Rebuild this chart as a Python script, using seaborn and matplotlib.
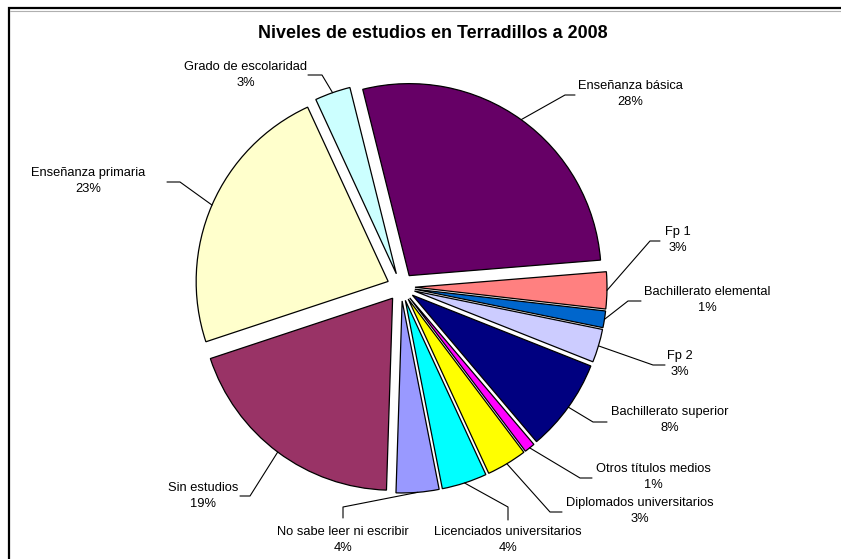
import matplotlib
matplotlib.use("Agg")
import matplotlib.pyplot as plt
import numpy as np
import seaborn as sns

# datos (porcentaje de cada nivel de estudios)
categorias = ["Enseñanza básica", "Fp 1", "Bachillerato elemental", "Fp 2",
              "Bachillerato superior", "Otros títulos medios",
              "Diplomados universitarios", "Licenciados universitarios",
              "No sabe leer ni escribir", "Sin estudios",
              "Enseñanza primaria", "Grado de escolaridad"]
porcentajes = [27.6, 3.1, 1.4, 2.8, 7.8, 0.9, 3.4, 3.8, 3.6, 19.4, 23.2, 3.0]
colores = ["#660066", "#FF8080", "#0066CC", "#CCCCFF", "#000080", "#FF00FF",
           "#FFFF00", "#00FFFF", "#9999FF", "#993366", "#FFFFCC", "#CCFFFF"]

# posiciones de etiquetas en pixeles de la imagen: texto, codo, fin de la linea
W, H = 841, 559
etiquetas_pos = [
    ((630, 94), (565, 95), (575, 95)),
    ((678, 240), (650, 241), (660, 241)),
    ((707, 300), (628, 301), (641, 301)),
    ((680, 364), (653, 365), (665, 365)),
    ((670, 420), (593, 422), (607, 422)),
    ((653, 477), (580, 478), (592, 478)),
    ((640, 511), (550, 512), (562, 512)),
    ((508, 540), (508, 507), (508, 520)),
    ((343, 540), (343, 507), (343, 518)),
    ((203, 496), (250, 496), (240, 496)),
    ((88, 181), (180, 182), (167, 182)),
    ((246, 75), (322, 75), (308, 75)),
]

sns.set_style("white")
plt.rcParams["font.family"] = ["Liberation Sans", "DejaVu Sans"]
plt.rcParams["text.color"] = "black"

fig = plt.figure(figsize=(W / 100, H / 100), dpi=100)
ax = fig.add_axes([0, 0, 1, 1])

radio = 192
centro = (401, H - 287)
wedges, _ = ax.pie(porcentajes, colors=colores, startangle=104, counterclock=False,
                   radius=radio, center=centro, explode=[14] * len(porcentajes),
                   wedgeprops=dict(edgecolor="black", linewidth=0.9))

ax.set_xlim(0, W)
ax.set_ylim(0, H)
ax.set_aspect("equal")
ax.axis("off")

for w, cat, val, (txt, codo, fin) in zip(wedges, categorias, porcentajes, etiquetas_pos):
    th = np.deg2rad((w.theta1 + w.theta2) / 2)
    ax_x = w.center[0] + w.r * np.cos(th)
    ax_y = w.center[1] + w.r * np.sin(th)
    ax.plot([ax_x, codo[0], fin[0]], [ax_y, H - codo[1], H - fin[1]],
            color="black", lw=0.8)
    ax.text(txt[0], H - txt[1], f"{cat}\n{round(val)}%", ha="center", va="center",
            fontsize=9.3, linespacing=1.4, color="black")

ax.text(433, H - 33, "Niveles de estudios en Terradillos a 2008", ha="center",
        va="center", fontsize=12.9, fontweight="bold", color="black")

# marco del grafico
ax.plot([9, 9, W + 5], [-5, H - 8, H - 8], color="black", lw=1.6,
        solid_joinstyle="miter", clip_on=False)
ax.plot([10, W + 5], [H - 10.5, H - 10.5], color="#b0b0b0", lw=0.8, clip_on=False)

fig.savefig("out.png", dpi=100)
